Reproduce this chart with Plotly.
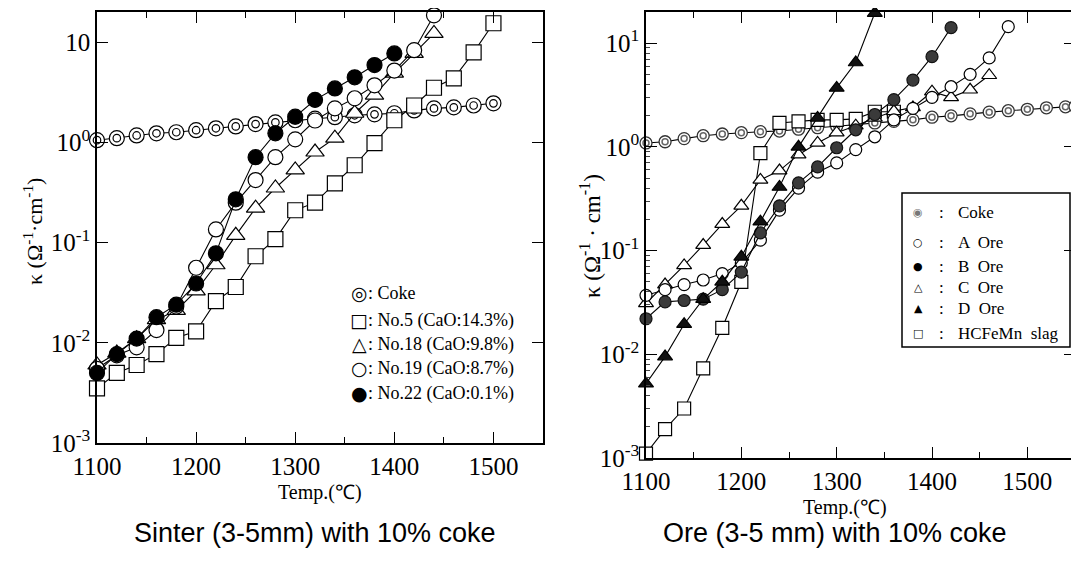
import plotly.graph_objects as go

# the page body adds an 8 px margin; build the figure so that it lands on the 1079x561 frame
OFF = 8
W, H = 1079 - OFF, 561 - OFF

# ---------------- data: left panel (Sinter) ----------------
T_left = [1100, 1120, 1140, 1160, 1180, 1200, 1220, 1240, 1260, 1280, 1300,
          1320, 1340, 1360, 1380, 1400, 1420, 1440, 1460, 1480, 1500]
coke_L = [1.05, 1.10, 1.17, 1.23, 1.26, 1.32, 1.38, 1.44, 1.52, 1.58, 1.66,
          1.72, 1.78, 1.86, 1.90, 1.95, 2.08, 2.18, 2.23, 2.33, 2.45]
no5 = [0.0035, 0.005, 0.006, 0.0077, 0.0112, 0.013, 0.026, 0.036, 0.073, 0.108, 0.21,
       0.25, 0.39, 0.59, 0.98, 1.66, 2.33, 3.5, 4.35, 7.9, 15.4]
T_no18 = [1100, 1120, 1140, 1160, 1180, 1200, 1220, 1240, 1260, 1280, 1300,
          1320, 1340, 1360, 1380, 1400, 1420, 1440]
no18 = [0.006, 0.0079, 0.011, 0.017, 0.021, 0.033, 0.06, 0.118, 0.22, 0.35, 0.53,
        0.8, 1.1, 1.95, 2.95, 4.9, 7.7, 12.2]
T_no19 = T_no18
no19 = [0.0055, 0.0075, 0.009, 0.0134, 0.023, 0.056, 0.135, 0.25, 0.42, 0.71, 1.07,
        1.65, 2.18, 2.75, 3.7, 5.2, 8.3, 18.5]
T_no22 = [1100, 1120, 1140, 1160, 1180, 1200, 1220, 1240, 1260, 1280, 1300,
          1320, 1340, 1360, 1380, 1400]
no22 = [0.005, 0.0077, 0.011, 0.018, 0.024, 0.039, 0.078, 0.27, 0.71, 1.23, 1.8,
        2.65, 3.45, 4.45, 5.9, 7.7]

# ---------------- data: right panel (Ore) ----------------
T_cokeR = [1100, 1120, 1140, 1160, 1180, 1200, 1220, 1240, 1260, 1280, 1300, 1320,
           1340, 1360, 1380, 1400, 1420, 1440, 1460, 1480, 1500, 1520, 1540, 1550]
coke_R = [1.09, 1.12, 1.2, 1.28, 1.33, 1.37, 1.4, 1.42, 1.48, 1.53, 1.58, 1.63,
          1.7, 1.76, 1.82, 1.93, 1.99, 2.08, 2.16, 2.23, 2.3, 2.38, 2.43, 2.45]
T_A = [1100, 1120, 1140, 1160, 1180, 1200, 1220, 1240, 1260, 1280, 1300, 1320,
       1340, 1360, 1380, 1400, 1420, 1440, 1460, 1480]
oreA = [0.037, 0.042, 0.047, 0.052, 0.06, 0.076, 0.126, 0.245, 0.4, 0.57, 0.7, 0.94,
        1.25, 1.82, 2.35, 3.0, 3.8, 5.0, 7.2, 14.4]
T_B = [1100, 1120, 1140, 1160, 1180, 1200, 1220, 1240, 1260, 1280, 1300, 1320,
       1340, 1360, 1380, 1400, 1420]
oreB = [0.022, 0.032, 0.033, 0.034, 0.042, 0.062, 0.148, 0.27, 0.45, 0.64, 0.98, 1.46,
        2.05, 2.85, 4.4, 7.4, 14.1]
T_C = [1100, 1120, 1140, 1160, 1180, 1200, 1220, 1240, 1260, 1280, 1300, 1320,
       1340, 1360, 1380, 1400, 1420, 1440, 1460]
oreC = [0.031, 0.047, 0.072, 0.113, 0.18, 0.27, 0.48, 0.59, 0.84, 1.09, 1.37, 1.6,
        1.9, 2.2, 2.4, 3.4, 3.0, 3.55, 4.9]
T_D = [1100, 1120, 1140, 1160, 1180, 1200, 1220, 1240, 1260, 1280, 1300, 1320, 1340]
oreD = [0.0052, 0.0095, 0.0195, 0.034, 0.05, 0.087, 0.19, 0.41, 1.0, 1.9, 3.7, 6.5, 19.5]
T_slag = [1100, 1120, 1140, 1160, 1180, 1200, 1220, 1240, 1260, 1280, 1300, 1320,
          1340, 1360]
slag = [0.0011, 0.0019, 0.003, 0.0073, 0.018, 0.05, 0.87, 1.7, 1.76, 1.82, 1.82, 1.86,
        2.18, 2.18]

x_ticks = [1100, 1200, 1300, 1400, 1500]
x_minor = [1150, 1250, 1350, 1450]
y_ticks = [0.001, 0.01, 0.1, 1, 10]
y_text_L = ["10<sup>-3</sup>", "10<sup>-2</sup>", "10<sup>-1</sup>", "10<sup>0</sup>", "10"]
y_text_R = ["10<sup>-3</sup>", "10<sup>-2</sup>", "10<sup>-1</sup>", "10<sup>0</sup>", "10<sup>1</sup>"]

SERIF = "Liberation Serif"
SANS = "Liberation Sans"
SYM = "DejaVu Sans"


def fx(p):
    return (p - OFF) / W


def fy(p):
    return 1 - (p - OFF) / H


fig = go.Figure()
LINE = dict(color="black", width=1.1)


def add(x, y, xa, ya, symbol, size, fill, lc="black", lw=1.2, line=True):
    fig.add_trace(go.Scatter(
        x=x, y=y, xaxis=xa, yaxis=ya, mode="lines+markers" if line else "markers",
        line=LINE, cliponaxis=False, showlegend=False, hoverinfo="skip",
        marker=dict(symbol=symbol, size=size, color=fill, line=dict(color=lc, width=lw))))


# left panel
add(T_left, coke_L, "x", "y", "circle", 15, "white")
add(T_left, coke_L, "x", "y", "circle", 7.5, "white", line=False)
add(T_left, no5, "x", "y", "square", 15, "white")
add(T_no18, no18, "x", "y", "triangle-up", 16, "white")
add(T_no19, no19, "x", "y", "circle", 15, "white")
add(T_no22, no22, "x", "y", "circle", 15, "black")

# right panel
add(T_cokeR, coke_R, "x2", "y2", "circle", 12, "white", lc="#333", lw=1.3)
add(T_cokeR, coke_R, "x2", "y2", "circle", 6, "white", lc="#666", lw=1.5, line=False)
add(T_slag, slag, "x2", "y2", "square", 13, "white")
add(T_C, oreC, "x2", "y2", "triangle-up", 13, "white")
add(T_A, oreA, "x2", "y2", "circle", 12, "white")
add(T_B, oreB, "x2", "y2", "circle", 12, "#3a3a3a", lc="#111")
add(T_D, oreD, "x2", "y2", "triangle-up", 13, "#111")

axis_common = dict(showline=True, linecolor="black", linewidth=1.5, mirror="ticks",
                   ticks="inside", ticklen=11, tickwidth=1.3, tickcolor="black",
                   showgrid=False, zeroline=False, automargin=False,
                   tickfont=dict(family=SERIF, size=25, color="black"))

fig.update_layout(
    template="none",
    width=W, height=H, margin=dict(l=0, r=0, t=0, b=0, pad=0, autoexpand=False),
    paper_bgcolor="white", plot_bgcolor="white", showlegend=False,
    xaxis=dict(domain=[fx(97), fx(543)], range=[1100, 1550], tickvals=x_ticks,
               minor=dict(tickvals=x_minor, ticks="inside", ticklen=6, tickcolor="black"),
               anchor="y", **axis_common),
    yaxis=dict(domain=[fy(443), fy(12)], type="log", range=[-3, 1.3], tickvals=y_ticks,
               ticktext=y_text_L, anchor="x", **axis_common),
    xaxis2=dict(domain=[fx(646), fx(1075)], range=[1100, 1550], tickvals=x_ticks,
                minor=dict(tickvals=x_minor, ticks="inside", ticklen=6, tickcolor="black"),
                anchor="y2", **axis_common),
    yaxis2=dict(domain=[fy(458), fy(12)], type="log", range=[-3, 1.3], tickvals=y_ticks,
                ticktext=y_text_R, anchor="x2",
                minor=dict(ticks="inside", ticklen=4, dtick="D1", tickcolor="#444"),
                **axis_common),
)

ann = []


def text(x, y, s, size, family=SERIF, xanchor="center", angle=0, color="black"):
    ann.append(dict(x=fx(x), y=fy(y), xref="paper", yref="paper", text=s, showarrow=False,
                    xanchor=xanchor, yanchor="middle", textangle=angle,
                    font=dict(family=family, size=size, color=color)))


# axis titles
text(33, 232, "κ (Ω<sup>-1</sup>·cm<sup>-1</sup>)", 22, angle=-90)
text(590, 236, "κ (Ω<sup>-1</sup> · cm<sup>-1</sup>)", 23, angle=-90)
text(320, 492, "Temp.(℃)", 20)
text(845, 507, "Temp.(℃)", 20)

# captions
text(315, 533, "Sinter (3-5mm) with 10% coke", 27, family=SANS)
text(835, 533, "Ore (3-5 mm) with 10% coke", 27, family=SANS)

# left legend
leg_L_sym = ["◎", "□", "△", "○", "●"]
leg_L_txt = [": Coke", ": No.5 (CaO:14.3%)", ": No.18 (CaO:9.8%)",
             ": No.19 (CaO:8.7%)", ": No.22 (CaO:0.1%)"]
for sym, s, yy in zip(leg_L_sym, leg_L_txt, [293, 320, 344, 368, 393]):
    text(359, yy, sym, 19, family=SYM)
    text(366, yy, s, 18, xanchor="left")

# right legend
leg_R_sym = ["◉", "○", "●", "△", "▲", "□"]
leg_R_txt = ["Coke", "A  Ore", "B  Ore", "C  Ore", "D  Ore", "HCFeMn  slag"]
leg_R_col = ["#777", "black", "black", "black", "black", "black"]
for sym, s, c, yy in zip(leg_R_sym, leg_R_txt, leg_R_col, [212, 242, 266, 287, 308, 333]):
    text(918, yy, sym, 11, family=SYM, color=c)
    text(941, yy, ":", 17)
    text(956, yy, s, 17, xanchor="left")

fig.update_layout(annotations=ann, shapes=[
    dict(type="rect", xref="paper", yref="paper", x0=fx(902), x1=fx(1070), y0=fy(347), y1=fy(193),
         line=dict(color="black", width=1.5), fillcolor="rgba(0,0,0,0)")])

fig.write_html("out.html")
